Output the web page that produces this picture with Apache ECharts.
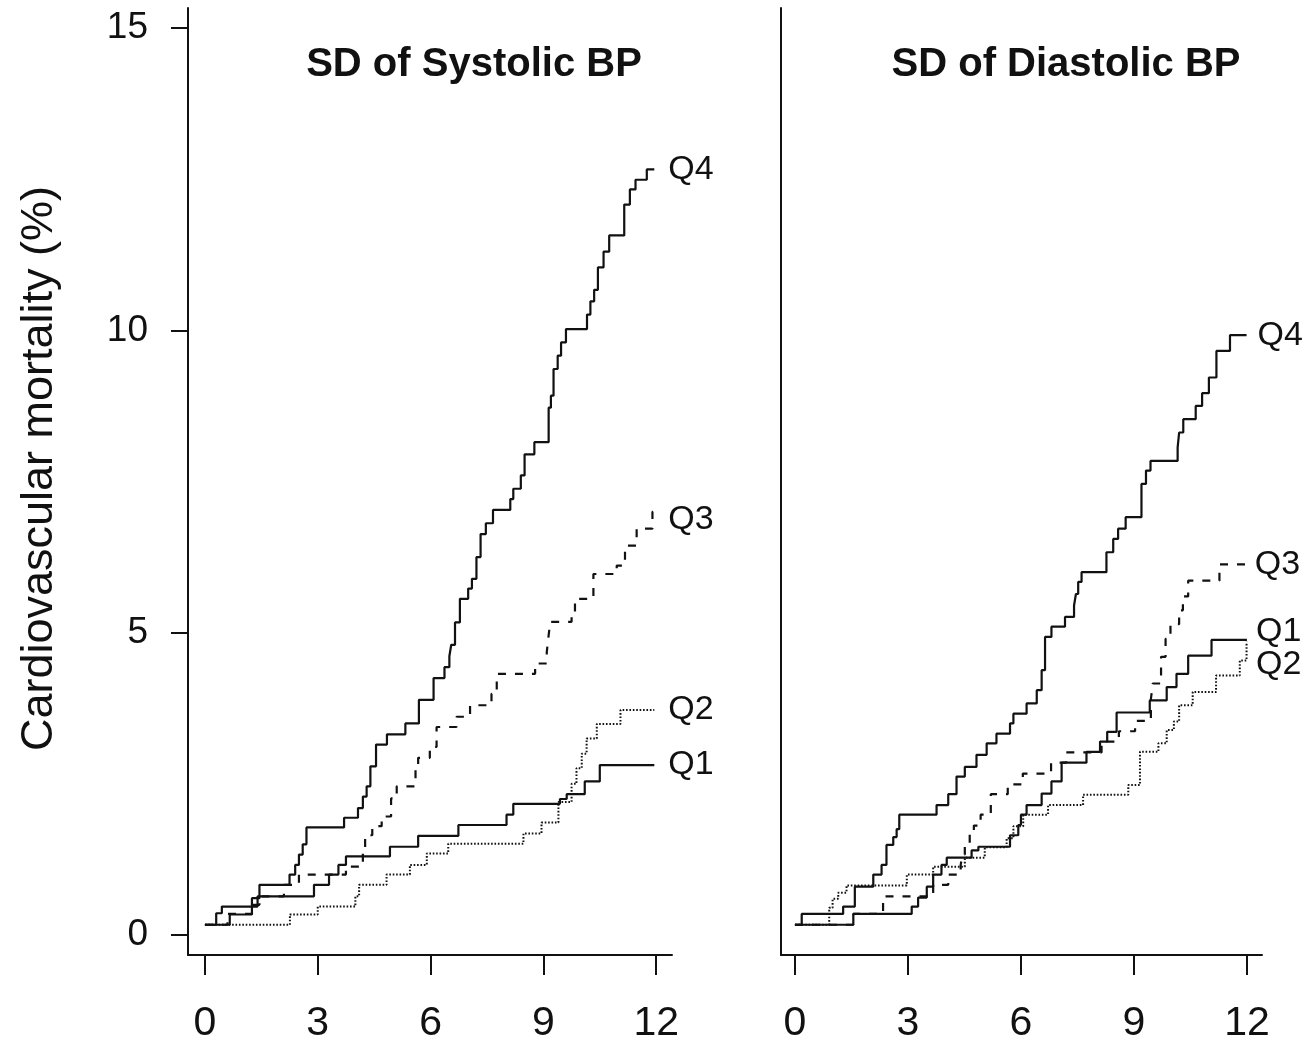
<!DOCTYPE html>
<html>
<head>
<meta charset="utf-8">
<script src="https://cdn.jsdelivr.net/npm/echarts@6/dist/echarts.min.js"></script>
<style>
  html, body { margin: 0; padding: 0; background: #fff; }
  #main { width: 1307px; height: 1044px; }
</style>
</head>
<body>
<div id="main"></div>
<script>
// panel titles, ticks, curve names
var panelTitles = ['SD of Systolic BP', 'SD of Diastolic BP'];
var xTicks = [0, 3, 6, 9, 12];
var yTicks = [0, 5, 10, 15];
var yName = 'Cardiovascular mortality (%)';
var curveNames = ['Q1', 'Q2', 'Q3', 'Q4'];

// [years, cumulative %] - value starts at that time (step curves)
var sysQ1 = [[0,0.17],[0.66,0.34],[1.25,0.47],[1.4,0.64],[2.9,0.83],[3.3,1.0],[3.55,1.16],[3.75,1.3],[4.92,1.46],[5.67,1.64],[6.74,1.82],[8.02,1.99],[8.2,2.17],[9.44,2.25],[9.62,2.33],[10.1,2.54],[10.5,2.81],[11.95,2.81]];
var sysQ2 = [[0,0.17],[2.26,0.34],[3.0,0.47],[4.0,0.64],[4.1,0.83],[4.83,1.0],[5.45,1.16],[5.9,1.35],[6.47,1.51],[8.47,1.68],[8.95,1.86],[9.4,2.2],[9.75,2.5],[9.88,2.76],[10.02,3.0],[10.15,3.25],[10.42,3.49],[11.05,3.72],[11.95,3.72]];
var sysQ3 = [[0,0.17],[0.6,0.35],[1.25,0.5],[1.45,0.64],[2.1,0.83],[2.5,1.0],[3.75,1.13],[4.2,1.4],[4.26,1.65],[4.45,1.8],[4.7,1.96],[4.95,2.26],[5.1,2.46],[5.6,2.76],[5.67,2.93],[5.98,3.11],[6.16,3.44],[6.69,3.61],[7.05,3.8],[7.62,3.99],[7.76,4.32],[8.78,4.49],[9.09,4.68],[9.13,4.9],[9.18,5.18],[9.75,5.3],[9.84,5.56],[10.33,5.97],[10.95,6.11],[11.17,6.44],[11.48,6.72],[11.9,7.0],[11.95,7.0]];
var sysQ4 = [[0,0.17],[0.3,0.36],[0.45,0.47],[1.25,0.61],[1.45,0.83],[2.25,1.0],[2.4,1.16],[2.5,1.33],[2.6,1.5],[2.7,1.78],[3.7,1.94],[4.07,2.1],[4.2,2.29],[4.3,2.46],[4.4,2.79],[4.55,3.15],[4.84,3.32],[5.33,3.5],[5.69,3.89],[6.08,4.25],[6.37,4.43],[6.5,4.61],[6.55,4.8],[6.65,5.17],[6.78,5.56],[7.0,5.73],[7.1,5.89],[7.22,6.25],[7.33,6.63],[7.47,6.81],[7.66,7.03],[8.12,7.21],[8.2,7.38],[8.4,7.6],[8.5,7.95],[8.76,8.15],[9.14,8.72],[9.2,8.92],[9.27,9.36],[9.38,9.58],[9.47,9.8],[9.6,10.02],[10.16,10.26],[10.25,10.48],[10.35,10.67],[10.45,11.04],[10.6,11.3],[10.75,11.57],[11.15,12.08],[11.3,12.33],[11.45,12.49],[11.75,12.66],[11.95,12.66]];

var diaQ1 = [[0,0.17],[1.55,0.35],[3.1,0.47],[3.27,0.62],[3.5,0.8],[3.67,1.0],[3.89,1.16],[4.03,1.28],[4.69,1.4],[4.87,1.46],[5.71,1.65],[5.93,1.82],[6.0,1.99],[6.15,2.15],[6.55,2.34],[6.81,2.54],[7.08,2.85],[7.74,3.03],[8.1,3.2],[8.29,3.36],[8.54,3.68],[9.42,3.88],[9.87,4.1],[10.13,4.32],[10.44,4.62],[11.06,4.88],[12.0,4.88]];
var diaQ2 = [[0,0.17],[0.91,0.45],[1.0,0.6],[1.15,0.7],[1.37,0.82],[2.97,1.0],[3.67,1.13],[4.51,1.28],[5.04,1.45],[5.62,1.6],[5.8,1.8],[6.06,1.99],[6.72,2.15],[7.65,2.32],[8.85,2.48],[9.16,3.03],[9.65,3.17],[9.87,3.39],[10.06,3.53],[10.2,3.8],[10.56,4.02],[11.18,4.29],[11.81,4.54],[11.99,4.85],[12.0,4.85]];
var diaQ3 = [[0,0.17],[1.55,0.35],[2.34,0.64],[3.67,0.83],[4.07,1.0],[4.4,1.16],[4.45,1.33],[4.51,1.49],[4.64,1.7],[4.75,1.81],[4.93,1.99],[5.2,2.33],[5.65,2.49],[6.05,2.67],[6.8,2.85],[7.2,3.02],[8.14,3.2],[8.6,3.37],[9.03,3.54],[9.45,3.9],[9.5,4.16],[9.72,4.6],[9.84,4.9],[9.97,5.14],[10.2,5.37],[10.3,5.6],[10.44,5.86],[11.27,6.13],[11.97,6.13]];
var diaQ4 = [[0,0.17],[0.18,0.35],[1.28,0.47],[1.59,0.8],[2.08,1.0],[2.3,1.16],[2.43,1.49],[2.61,1.62],[2.7,1.75],[2.77,1.99],[3.76,2.15],[4.07,2.33],[4.29,2.62],[4.51,2.78],[4.82,2.98],[5.09,3.17],[5.35,3.33],[5.71,3.5],[5.8,3.66],[6.15,3.83],[6.42,4.05],[6.55,4.38],[6.64,4.93],[6.81,5.1],[7.17,5.26],[7.41,5.45],[7.46,5.64],[7.52,5.84],[7.61,6.0],[8.27,6.33],[8.45,6.55],[8.58,6.72],[8.78,6.91],[9.2,7.46],[9.32,7.68],[9.44,7.84],[10.16,8.06],[10.2,8.31],[10.31,8.53],[10.64,8.75],[10.81,8.96],[10.99,9.22],[11.19,9.66],[11.55,9.92],[11.99,9.92]];

var panels = [[sysQ1, sysQ2, sysQ3, sysQ4], [diaQ1, diaQ2, diaQ3, diaQ4]];

var FONT = '"Liberation Sans", Arial, sans-serif';
var INK = '#111';
// line style per quartile: solid, dotted, dashed, solid
var dashes = ['solid', [1.6, 1.8], [8, 9], 'solid'];
var widths = [2.2, 2, 2.2, 2.2];
// end label nudges [dx, dy] per panel
var labelNudge = [
  [[9, 0], [9, 0], [9, 8], [9, 0]],
  [[4, -8], [4, 23], [4, 0], [6, 0]]
];

var chartDom = document.getElementById('main');
var myChart = echarts.init(chartDom, null, { renderer: 'canvas' });

var grids = [
  { left: 188, top: 8, width: 484, height: 949 },
  { left: 781, top: 8, width: 481, height: 949 }
];
var xRanges = [[-0.45, 12.42], [-0.37, 12.4]];

var xAxes = [], yAxes = [], series = [], titles = [];
for (var p = 0; p < 2; p++) {
  xAxes.push({
    type: 'value', gridIndex: p, min: xRanges[p][0], max: xRanges[p][1],
    splitLine: { show: false },
    axisLine: { show: true, onZero: false, lineStyle: { color: INK, width: 2 } },
    axisTick: { show: true, customValues: xTicks, length: 20, lineStyle: { color: INK, width: 2 } },
    axisLabel: { show: true, customValues: xTicks, margin: 48, fontSize: 41, color: INK, fontFamily: FONT }
  });
  yAxes.push({
    type: 'value', gridIndex: p, min: -0.33, max: 15.33,
    splitLine: { show: false },
    axisLine: { show: true, onZero: false, lineStyle: { color: INK, width: 2 } },
    axisTick: { show: p === 0, customValues: yTicks, length: 17, lineStyle: { color: INK, width: 2 } },
    axisLabel: { show: p === 0, customValues: yTicks, margin: 40, fontSize: 37, color: INK, fontFamily: FONT },
    name: p === 0 ? yName : '',
    nameLocation: 'middle', nameRotate: 90, nameGap: 126,
    nameTextStyle: { fontSize: 45, color: INK, fontFamily: FONT, padding: [0, 0, 0, 26] }
  });
  titles.push({
    text: panelTitles[p],
    left: p === 0 ? 474 : 1066, top: 45, textAlign: 'center', padding: 0,
    textStyle: { fontSize: 40, fontWeight: 'bold', color: INK, fontFamily: FONT }
  });
  // dotted and dashed first, solid ones on top
  [1, 2, 0, 3].forEach(function (q) {
    series.push({
      name: curveNames[q],
      type: 'line', step: 'end',
      xAxisIndex: p, yAxisIndex: p,
      data: panels[p][q],
      showSymbol: false, symbol: 'none',
      lineStyle: { color: INK, width: widths[q], type: dashes[q], cap: 'butt' },
      endLabel: {
        show: true, formatter: curveNames[q], distance: 5,
        offset: labelNudge[p][q],
        fontSize: 34, color: INK, fontFamily: FONT
      },
      z: q === 0 || q === 3 ? 3 : 2,
      silent: true
    });
  });
}

var option = {
  backgroundColor: '#fff',
  animation: false,
  title: titles,
  grid: grids,
  xAxis: xAxes,
  yAxis: yAxes,
  series: series
};
myChart.setOption(option);
</script>
</body>
</html>
